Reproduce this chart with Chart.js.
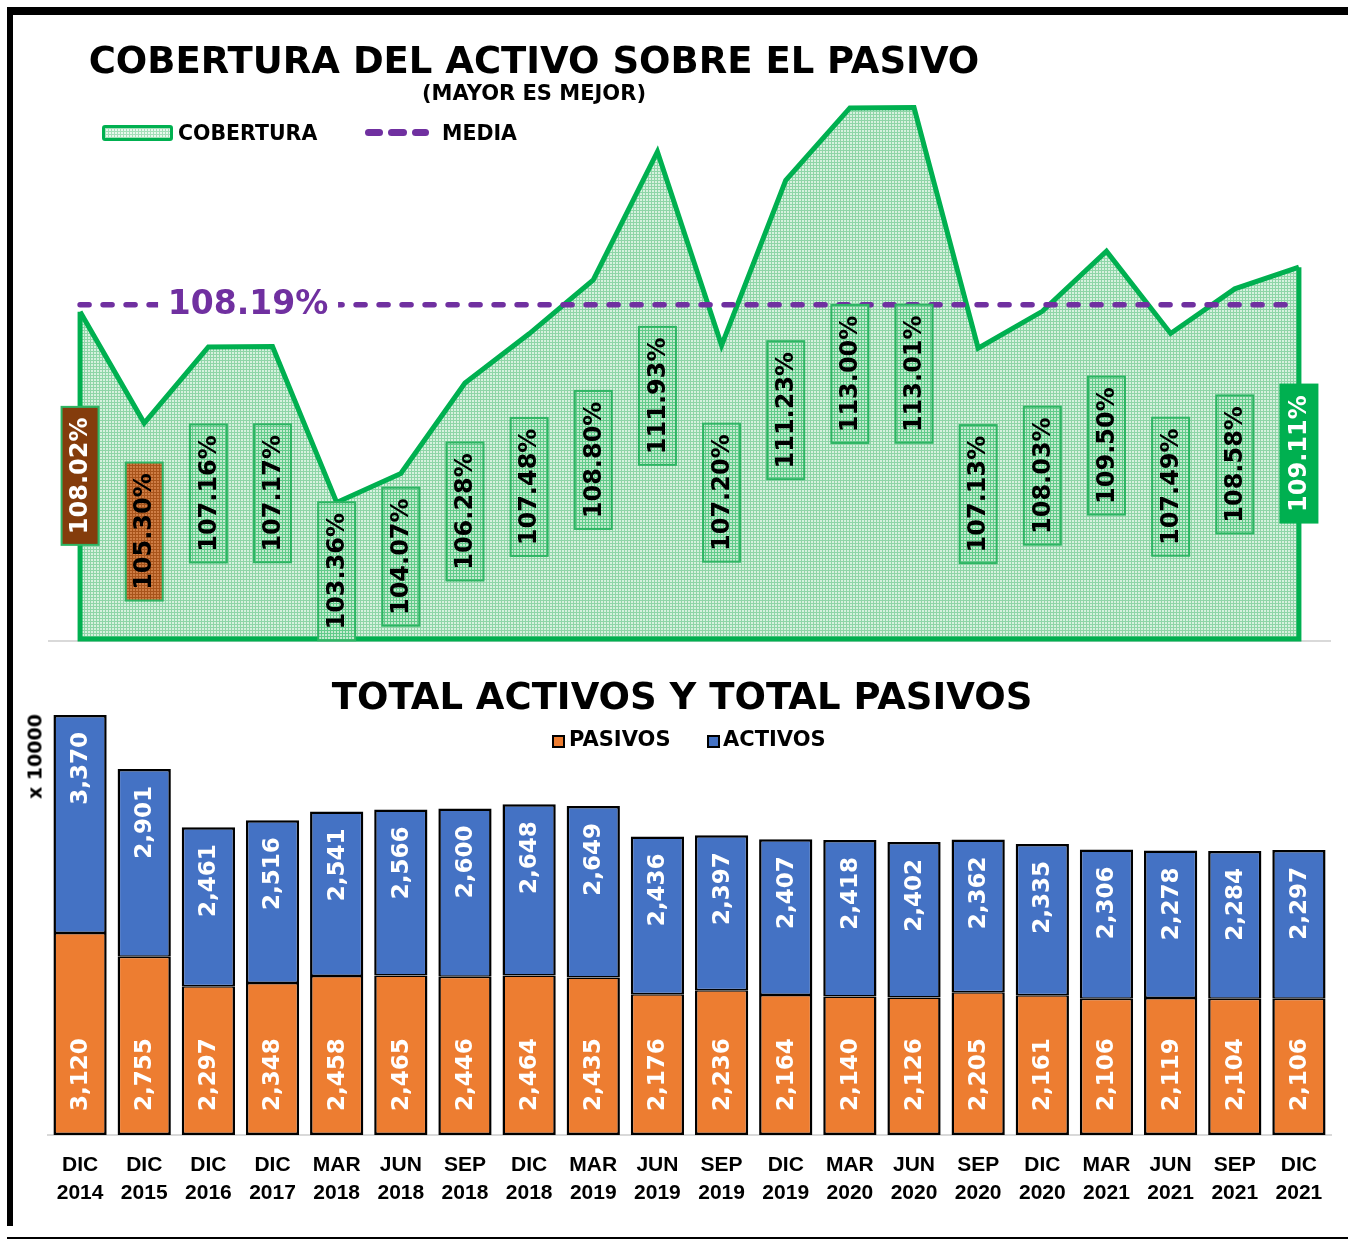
<!DOCTYPE html>
<html><head><meta charset="utf-8">
<script src="https://cdn.jsdelivr.net/npm/chart.js@4.4.0/dist/chart.umd.min.js"></script>
<style>
html,body{margin:0;padding:0;background:#fff;}
body{width:1348px;height:1239px;position:relative;overflow:hidden;font-family:'DejaVu Sans',Verdana,sans-serif;}
.t{position:absolute;white-space:nowrap;font-weight:bold;color:#000;line-height:1;}
canvas{position:absolute;left:0;}
.fr{position:absolute;background:#000;}
</style></head><body>
<canvas id="c1" width="1348" height="660" style="top:0"></canvas>
<canvas id="c2" width="1348" height="589" style="top:650px"></canvas>

<div class="t" style="left:34px;width:1000px;text-align:center;top:42px;font-size:37px;">COBERTURA DEL ACTIVO SOBRE EL PASIVO</div>
<div class="t" style="left:234px;width:600px;text-align:center;top:83px;font-size:21px;">(MAYOR ES MEJOR)</div>
<div style="position:absolute;left:102px;top:125px;width:71px;height:16px;box-sizing:border-box;border:3px solid #00B050;border-radius:3px;background-color:#eaf8ef;background-image:repeating-linear-gradient(90deg,#a4dfb9 0 1px,transparent 1px 3px),repeating-linear-gradient(0deg,#a4dfb9 0 1px,transparent 1px 3px);"></div>
<div class="t" style="left:178px;top:123px;font-size:20.5px;">COBERTURA</div>
<div style="position:absolute;left:365px;top:129px;width:18px;height:7px;border-radius:4px;background:#7030A0"></div>
<div style="position:absolute;left:388px;top:129px;width:19px;height:7px;border-radius:4px;background:#7030A0"></div>
<div style="position:absolute;left:412px;top:129px;width:17px;height:7px;border-radius:4px;background:#7030A0"></div>
<div class="t" style="left:442px;top:123px;font-size:20.5px;">MEDIA</div>

<div class="t" style="left:182px;width:1000px;text-align:center;top:678px;font-size:37px;">TOTAL ACTIVOS Y TOTAL PASIVOS</div>
<div style="position:absolute;left:552px;top:735px;width:13px;height:13px;box-sizing:border-box;border:2px solid #000;background:#ED7D31"></div>
<div class="t" style="left:569px;top:729px;font-size:21px;">PASIVOS</div>
<div style="position:absolute;left:707px;top:735px;width:13px;height:13px;box-sizing:border-box;border:2px solid #000;background:#4472C4"></div>
<div class="t" style="left:723px;top:729px;font-size:21px;">ACTIVOS</div>
<div class="t" style="left:-15px;width:100px;text-align:center;top:747px;font-size:19px;transform:rotate(-90deg);">x 10000</div>

<div class="fr" style="left:7px;top:7px;width:1341px;height:8px;"></div>
<div class="fr" style="left:7px;top:7px;width:6px;height:1219px;"></div>
<div class="fr" style="left:7px;top:1237px;width:1341px;height:2px;"></div>

<script>
const categories = [['DIC','2014'],['DIC','2015'],['DIC','2016'],['DIC','2017'],['MAR','2018'],['JUN','2018'],['SEP','2018'],['DIC','2018'],['MAR','2019'],['JUN','2019'],['SEP','2019'],['DIC','2019'],['MAR','2020'],['JUN','2020'],['SEP','2020'],['DIC','2020'],['MAR','2021'],['JUN','2021'],['SEP','2021'],['DIC','2021']];
const cobertura = [108.02,105.30,107.16,107.17,103.36,104.07,106.28,107.48,108.80,111.93,107.20,111.23,113.00,113.01,107.13,108.03,109.50,107.49,108.58,109.11];
const mediaValue = 108.19;
const media = [108.19,108.19,108.19,108.19,108.19,108.19,108.19,108.19,108.19,108.19,108.19,108.19,108.19,108.19,108.19,108.19,108.19,108.19,108.19,108.19];
const pasivos = [3120,2755,2297,2348,2458,2465,2446,2464,2435,2176,2236,2164,2140,2126,2205,2161,2106,2119,2104,2106];
const activos = [3370,2901,2461,2516,2541,2566,2600,2648,2649,2436,2397,2407,2418,2402,2362,2335,2306,2278,2284,2297];

const GREEN = '#00B050';
const PURPLE = '#7030A0';
const LABEL_FONT = "bold 24px 'DejaVu Sans', Verdana, sans-serif";

function makePattern(base, line, size) {
  const c = document.createElement('canvas');
  c.width = size; c.height = size;
  const g = c.getContext('2d');
  g.fillStyle = base; g.fillRect(0, 0, size, size);
  g.fillStyle = line; g.fillRect(0, 0, size, 1); g.fillRect(0, 0, 1, size);
  return g.createPattern(c, 'repeat');
}
const ctx1 = document.getElementById('c1').getContext('2d');
const areaPattern = makePattern('#d6f1de', '#8ed5a7', 3);
const boxPattern = makePattern('#c4ebd0', '#62cb8a', 3);
const brownPattern = makePattern('#cf7d45', '#a8541b', 3);

const areaDeco = {
  id: 'areaDeco',
  beforeDatasetsDraw(chart) {
    const c = chart.ctx, a = chart.chartArea;
    c.save();
    c.strokeStyle = '#d9d9d9'; c.lineWidth = 2;
    c.beginPath(); c.moveTo(a.left, a.bottom + 1); c.lineTo(a.right, a.bottom + 1); c.stroke();
    c.restore();
  },
  afterDatasetsDraw(chart) {
    const c = chart.ctx, a = chart.chartArea;
    const pts = chart.getDatasetMeta(1).data;
    const base = a.bottom;
    const first = pts[0], last = pts[pts.length - 1];
    c.save();
    c.strokeStyle = GREEN; c.lineWidth = 5; c.lineJoin = 'miter';
    c.beginPath();
    c.moveTo(first.x, first.y); c.lineTo(first.x, base - 1); c.lineTo(last.x, base - 1); c.lineTo(last.x, last.y);
    c.stroke();
    c.font = LABEL_FONT;
    c.textAlign = 'center'; c.textBaseline = 'middle';
    pts.forEach((p, i) => {
      const yc = (p.y + base) / 2;
      const w = 37, h = 138;
      let fill = boxPattern, txt = '#000', stroke = '#2db563';
      if (i === 0) { fill = '#843C0C'; txt = '#fff'; }
      else if (i === 1) { fill = brownPattern; }
      else if (i === pts.length - 1) { fill = GREEN; txt = '#fff'; stroke = GREEN; }
      c.fillStyle = fill;
      c.fillRect(p.x - w / 2, yc - h / 2, w, h);
      c.lineWidth = 2; c.strokeStyle = stroke;
      c.strokeRect(p.x - w / 2, yc - h / 2, w, h);
      c.save();
      c.translate(p.x + 1, yc); c.rotate(-Math.PI / 2);
      c.fillStyle = txt;
      c.fillText(cobertura[i].toFixed(2) + '%', 0, 0);
      c.restore();
    });
    const ym = chart.scales.y.getPixelForValue(mediaValue);
    const xm = chart.scales.x.getPixelForValue(0) + 168;
    c.fillStyle = '#fff';
    c.fillRect(xm - 90, ym - 16, 180, 32);
    c.font = "bold 33px 'DejaVu Sans', Verdana, sans-serif";
    c.fillStyle = PURPLE;
    c.fillText(mediaValue.toFixed(2) + '%', xm, ym + 1);
    c.restore();
  }
};

new Chart(ctx1, {
  type: 'line',
  data: {
    labels: categories,
    datasets: [
      { label: 'MEDIA', data: media, borderColor: PURPLE, borderWidth: 5.5, borderDash: [9, 14], borderCapStyle: 'round', pointRadius: 0, fill: false, order: 0 },
      { label: 'COBERTURA', data: cobertura, borderColor: GREEN, borderWidth: 5, backgroundColor: areaPattern, fill: 'start', pointRadius: 0, tension: 0, order: 1, borderJoinStyle: 'miter' }
    ]
  },
  options: {
    responsive: false, animation: false,
    layout: { padding: { left: 48, right: 17, top: 67, bottom: 20 } },
    plugins: { legend: { display: false }, tooltip: { enabled: false } },
    scales: {
      x: { display: false, offset: true },
      y: { display: false, min: 100, max: 114 }
    }
  },
  plugins: [areaDeco]
});

const barLabels = {
  id: 'barLabels',
  afterDatasetsDraw(chart) {
    const c = chart.ctx;
    c.save();
    c.font = "bold 23px 'DejaVu Sans', Verdana, sans-serif";
    c.fillStyle = '#fff'; c.textBaseline = 'middle';
    const mp = chart.getDatasetMeta(0).data, ma = chart.getDatasetMeta(1).data;
    mp.forEach((b, i) => {
      c.save(); c.translate(b.x + 1, b.base - 24); c.rotate(-Math.PI / 2);
      c.textAlign = 'left'; c.fillText(pasivos[i].toLocaleString('en-US'), 0, 0); c.restore();
    });
    ma.forEach((b, i) => {
      c.save(); c.translate(b.x + 1, b.y + 17); c.rotate(-Math.PI / 2);
      c.textAlign = 'right'; c.fillText(activos[i].toLocaleString('en-US'), 0, 0); c.restore();
    });
    c.restore();
  }
};

new Chart(document.getElementById('c2').getContext('2d'), {
  type: 'bar',
  data: {
    labels: categories,
    datasets: [
      { label: 'PASIVOS', data: pasivos, backgroundColor: '#ED7D31', borderColor: '#000', borderWidth: { left: 2.5, right: 2.5, bottom: 2.5, top: 1.5 }, borderSkipped: false, barPercentage: 0.83, categoryPercentage: 1 },
      { label: 'ACTIVOS', data: activos, backgroundColor: '#4472C4', borderColor: '#000', borderWidth: { left: 2.5, right: 2.5, bottom: 1.5, top: 2.5 }, borderSkipped: false, barPercentage: 0.83, categoryPercentage: 1 }
    ]
  },
  options: {
    responsive: false, animation: false,
    layout: { padding: { left: 48, right: 17, top: 45, bottom: 34 } },
    plugins: { legend: { display: false }, tooltip: { enabled: false } },
    scales: {
      x: {
        stacked: true,
        grid: { display: false, drawTicks: false },
        border: { display: true, color: '#d9d9d9', width: 2 },
        ticks: { color: '#000', font: { family: "'Liberation Sans', Arial, sans-serif", size: 21, weight: 'bold', lineHeight: 1.333 }, padding: 16, maxRotation: 0, autoSkip: false },
        afterFit(s) { s.height = 70; }
      },
      y: { stacked: true, display: false, min: 0, max: 6800 }
    }
  },
  plugins: [barLabels]
});
</script>
</body></html>
